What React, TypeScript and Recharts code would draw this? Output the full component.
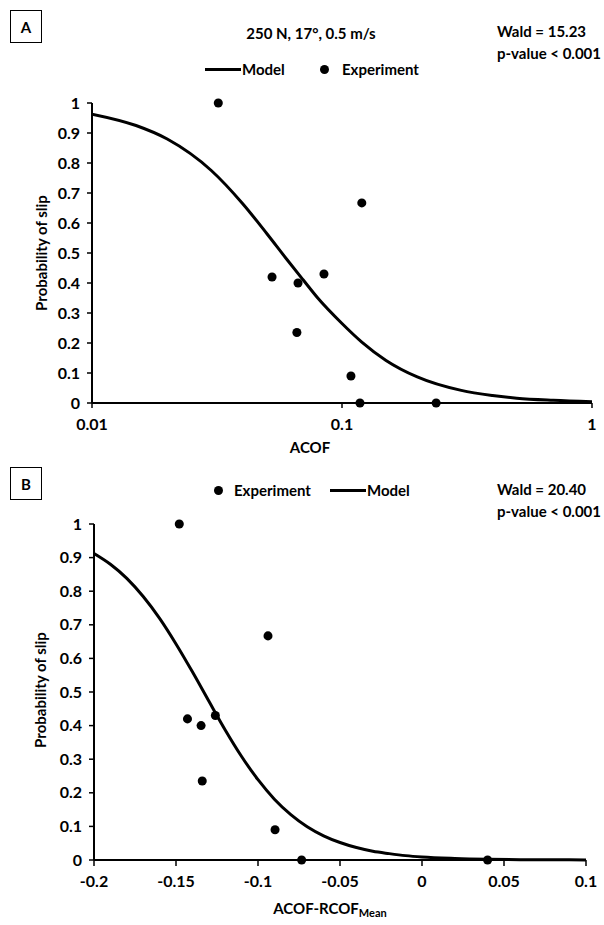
import { ComposedChart, Line, Scatter, XAxis, YAxis } from "recharts";

const probTicks = [0, 0.1, 0.2, 0.3, 0.4, 0.5, 0.6, 0.7, 0.8, 0.9, 1];
const acofTicks = [0.01, 0.1, 1];
const diffTicks = [-0.2, -0.15, -0.1, -0.05, 0, 0.05, 0.1];

// panel A: ACOF (log axis)
const acofExperiment = [
  { x: 0.032, y: 1.0 },
  { x: 0.0525, y: 0.42 },
  { x: 0.0667, y: 0.4 },
  { x: 0.066, y: 0.235 },
  { x: 0.0847, y: 0.43 },
  { x: 0.12, y: 0.667 },
  { x: 0.1086, y: 0.09 },
  { x: 0.118, y: 0 },
  { x: 0.238, y: 0 },
];

const acofModel = [
  { x: 0.01, y: 0.963 },
  { x: 0.015, y: 0.925 },
  { x: 0.02, y: 0.88 },
  { x: 0.03, y: 0.775 },
  { x: 0.04, y: 0.665 },
  { x: 0.05, y: 0.565 },
  { x: 0.06, y: 0.48 },
  { x: 0.07, y: 0.41 },
  { x: 0.08, y: 0.35 },
  { x: 0.1, y: 0.265 },
  { x: 0.12, y: 0.203 },
  { x: 0.15, y: 0.142 },
  { x: 0.2, y: 0.087 },
  { x: 0.3, y: 0.042 },
  { x: 0.4, y: 0.025 },
  { x: 0.5, y: 0.016 },
  { x: 0.7, y: 0.009 },
  { x: 1.0, y: 0.0045 },
];

// panel B: ACOF - RCOF mean
const diffExperiment = [
  { x: -0.148, y: 1.0 },
  { x: -0.143, y: 0.42 },
  { x: -0.1347, y: 0.4 },
  { x: -0.126, y: 0.43 },
  { x: -0.134, y: 0.235 },
  { x: -0.0939, y: 0.667 },
  { x: -0.0896, y: 0.09 },
  { x: -0.0734, y: 0 },
  { x: 0.04, y: 0 },
];

const diffModel = [
  { x: -0.2, y: 0.912 },
  { x: -0.19, y: 0.88 },
  { x: -0.18, y: 0.838 },
  { x: -0.17, y: 0.784 },
  { x: -0.16, y: 0.719 },
  { x: -0.15, y: 0.643 },
  { x: -0.14, y: 0.56 },
  { x: -0.13, y: 0.473 },
  { x: -0.12, y: 0.387 },
  { x: -0.11, y: 0.308 },
  { x: -0.1, y: 0.239 },
  { x: -0.09, y: 0.181 },
  { x: -0.08, y: 0.135 },
  { x: -0.07, y: 0.099 },
  { x: -0.06, y: 0.072 },
  { x: -0.05, y: 0.052 },
  { x: -0.04, y: 0.037 },
  { x: -0.03, y: 0.026 },
  { x: -0.02, y: 0.019 },
  { x: -0.01, y: 0.013 },
  { x: 0, y: 0.009 },
  { x: 0.02, y: 0.0047 },
  { x: 0.04, y: 0.0023 },
  { x: 0.06, y: 0.0011 },
  { x: 0.08, y: 0.0006 },
  { x: 0.1, y: 0.0003 },
];

const font = "Lato, 'Open Sans', sans-serif";
const tickStyle = { fontSize: 16, fontWeight: 700, fill: "#000", fontFamily: font };
const axisLine = { stroke: "#000", strokeWidth: 2 };
const tickLine = { stroke: "#000", strokeWidth: 1.5 };

const txt: React.CSSProperties = {
  position: "absolute",
  fontFamily: font,
  fontWeight: 700,
  fontSize: 15,
  color: "#000",
  whiteSpace: "nowrap",
};

function Box({ label, top }: { label: string; top: number }) {
  return (
    <div
      style={{
        ...txt,
        left: 10,
        top,
        width: 32,
        height: 33,
        border: "1px solid #000",
        boxSizing: "border-box",
        display: "flex",
        alignItems: "center",
        justifyContent: "center",
      }}
    >
      {label}
    </div>
  );
}

function LineKey({ left, cy }: { left: number; cy: number }) {
  return <div style={{ position: "absolute", left, top: cy - 1.5, width: 36, height: 3, background: "#000" }} />;
}

function DotKey({ cx, cy }: { cx: number; cy: number }) {
  return (
    <div
      style={{ position: "absolute", left: cx - 4.5, top: cy - 4.5, width: 9, height: 9, borderRadius: "50%", background: "#000" }}
    />
  );
}

function YLabel({ cx, cy }: { cx: number; cy: number }) {
  return (
    <div
      style={{
        ...txt,
        left: cx - 80,
        top: cy - 10,
        width: 160,
        lineHeight: "20px",
        textAlign: "center",
        transform: "rotate(-90deg)",
      }}
    >
      Probability of slip
    </div>
  );
}

export default function App() {
  return (
    <div style={{ position: "absolute", left: 0, top: 0, width: 604, height: 925, background: "#fff" }}>
      {/* Panel A */}
      <div style={{ position: "absolute", left: 0, top: 0 }}>
        <ComposedChart width={604} height={460} margin={{ top: 103, right: 12, bottom: 27, left: 32 }}>
          <XAxis
            dataKey="x"
            type="number"
            scale="log"
            domain={[0.01, 1]}
            ticks={acofTicks}
            allowDataOverflow
            axisLine={axisLine}
            tickLine={tickLine}
            tickSize={5}
            tickMargin={11}
            tick={tickStyle}
            height={30}
          />
          <YAxis
            type="number"
            domain={[0, 1]}
            ticks={probTicks}
            axisLine={axisLine}
            tickLine={tickLine}
            tickSize={5}
            tickMargin={7}
            tick={tickStyle}
            width={60}
          />
          <Line
            data={acofModel}
            dataKey="y"
            type="monotone"
            stroke="#000"
            strokeWidth={3}
            dot={false}
            activeDot={false}
            isAnimationActive={false}
          />
          <Scatter data={acofExperiment} dataKey="y" fill="#000" isAnimationActive={false} />
        </ComposedChart>
      </div>

      <Box label="A" top={10} />
      <div style={{ ...txt, left: 211, top: 24, width: 200, textAlign: "center", lineHeight: "18px" }}>
        250 N, 17°, 0.5 m/s
      </div>
      <div style={{ ...txt, left: 497, top: 20, lineHeight: "22px" }}>
        Wald = 15.23
        <br />
        p-value &lt; 0.001
      </div>
      <LineKey left={205} cy={69} />
      <div style={{ ...txt, left: 242, top: 60, lineHeight: "18px" }}>Model</div>
      <DotKey cx={324} cy={69} />
      <div style={{ ...txt, left: 342, top: 60, lineHeight: "18px" }}>Experiment</div>
      <YLabel cx={41} cy={253} />
      <div style={{ ...txt, left: 260, top: 438, width: 100, textAlign: "center", lineHeight: "18px" }}>ACOF</div>

      {/* Panel B */}
      <div style={{ position: "absolute", left: 0, top: 460 }}>
        <ComposedChart width={604} height={465} margin={{ top: 64, right: 18, bottom: 35, left: 34 }}>
          <XAxis
            dataKey="x"
            type="number"
            domain={[-0.2, 0.1]}
            ticks={diffTicks}
            allowDataOverflow
            axisLine={axisLine}
            tickLine={tickLine}
            tickSize={6}
            tickMargin={10}
            tick={tickStyle}
            height={30}
          />
          <YAxis
            type="number"
            domain={[0, 1]}
            ticks={probTicks}
            axisLine={axisLine}
            tickLine={tickLine}
            tickSize={5}
            tickMargin={7}
            tick={tickStyle}
            width={60}
          />
          <Line
            data={diffModel}
            dataKey="y"
            type="monotone"
            stroke="#000"
            strokeWidth={3}
            dot={false}
            activeDot={false}
            isAnimationActive={false}
          />
          <Scatter data={diffExperiment} dataKey="y" fill="#000" isAnimationActive={false} />
        </ComposedChart>
      </div>

      <Box label="B" top={467} />
      <DotKey cx={218} cy={490} />
      <div style={{ ...txt, left: 234, top: 481, lineHeight: "18px" }}>Experiment</div>
      <LineKey left={330} cy={490} />
      <div style={{ ...txt, left: 367, top: 481, lineHeight: "18px" }}>Model</div>
      <div style={{ ...txt, left: 497, top: 478, lineHeight: "22px" }}>
        Wald = 20.40
        <br />
        p-value &lt; 0.001
      </div>
      <YLabel cx={40} cy={690} />
      <div style={{ ...txt, left: 230, top: 899, width: 200, textAlign: "center", lineHeight: "18px" }}>
        ACOF-RCOF<sub style={{ fontSize: 11, verticalAlign: "-3px" }}>Mean</sub>
      </div>
    </div>
  );
}
